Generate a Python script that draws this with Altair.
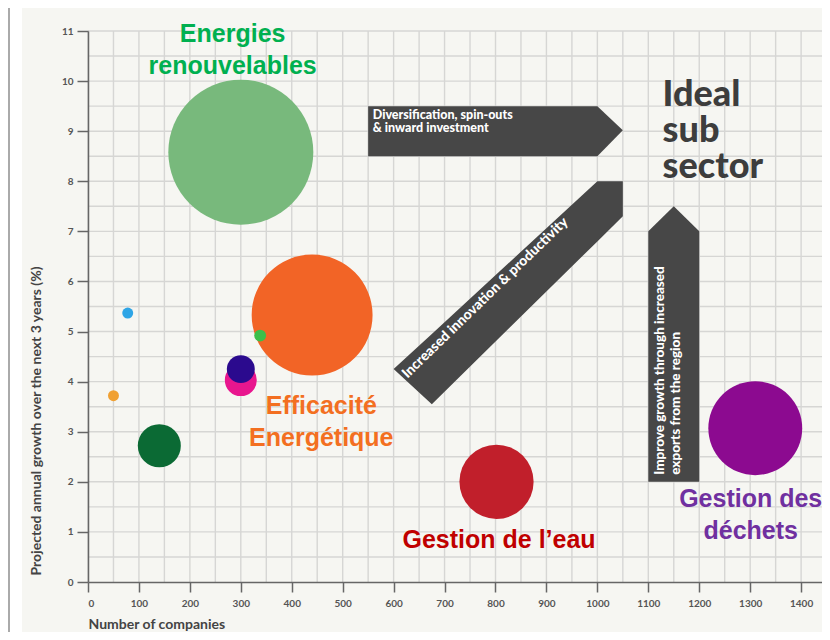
import altair as alt
import pandas as pd
import numpy as np

# ---------------- data ----------------
sector = ["Energies renouvelables", "Efficacité Energétique", "Sous-secteur A",
          "Sous-secteur B", "Sous-secteur C", "Sous-secteur D", "Sous-secteur E",
          "Sous-secteur F", "Gestion de l'eau", "Gestion des déchets"]
companies = [300, 440, 78, 50, 140, 300, 300, 338, 802, 1310]
growth = [8.58, 5.33, 5.37, 3.72, 2.72, 4.03, 4.25, 4.92, 2.0, 3.07]
bubble = [210, 146, 1.2, 1.2, 18.5, 10.2, 7.8, 1.4, 55, 88]
colors = ["#78b97c", "#f26426", "#2ea5e6", "#f0a032", "#0b6a34",
          "#e8168e", "#2b0a8e", "#3cbf4a", "#c11f2b", "#8c0a90"]

x_ticks = list(range(0, 1401, 100))
y_ticks = list(range(0, 12))

# sector labels (data coordinates)
lab_text = ["Energies\nrenouvelables", "Efficacité\nEnergétique", "Gestion de l’eau", "Gestion des\ndéchets"]
lab_x = [284, 458, 807, 1301]
lab_y = [10.79, 3.35, 0.67, 1.50]
lab_color = ["#00b050", "#f36f21", "#c00000", "#7030a0"]

# arrows (data coordinates)
arrow_h_x = [550, 1000, 1050]
arrow_h_top = [9.5, 9.5, 9.02]
arrow_h_bot = [8.5, 8.5, 9.02]

arrow_v_y = [2.0, 7.0, 7.5]
arrow_v_left = [1100, 1100, 1150]
arrow_v_right = [1200, 1200, 1150]

diag_top_x = [600, 1000, 1050]
diag_top_y = [4.25, 8.0, 8.0]
diag_bot_x = [600, 675, 1050]
diag_bot_y = [4.25, 3.55, 7.3]

W, H = 734, 551
xs = alt.Scale(domain=[0, 1441], nice=False, zero=False)
ys = alt.Scale(domain=[0, 11], nice=False, zero=False)

x_axis = alt.Axis(values=x_ticks, format="d", grid=False, domainColor="#666666", domainWidth=1.5,
                  tickColor="#666666", tickWidth=1.5, tickSize=10, zindex=1,
                  labelFont="Lato", labelFontWeight="bold", labelFontSize=10,
                  labelColor="#555555", labelPadding=6,
                  title="Number of companies", titleFont="Lato", titleFontSize=14,
                  titleFontWeight="bold", titleColor="#444444", titleX=0, titleY=46,
                  titleAlign="left", titleBaseline="alphabetic")
y_axis = alt.Axis(values=y_ticks, grid=False, domainColor="#666666", domainWidth=1.5,
                  tickColor="#666666", tickWidth=1.5, tickSize=11, zindex=1,
                  labelFont="Lato", labelFontWeight="bold", labelFontSize=10,
                  labelColor="#555555", labelPadding=4,
                  title="Projected annual growth over the next 3 years (%)",
                  titleFont="Lato", titleFontSize=14, titleFontWeight="bold",
                  titleColor="#444444", titleAngle=270, titleAlign="left",
                  titleBaseline="middle", titleX=-52, titleY=H - 7)

def X(f, **k):
    return alt.X(f, scale=xs, axis=x_axis, title="Number of companies", **k)

def Y(f, **k):
    return alt.Y(f, scale=ys, axis=y_axis, title="Projected annual growth over the next 3 years (%)", **k)

one = pd.DataFrame({"a": [0]})

bg = alt.Chart(one).mark_rect(color="#f6f6f2").encode(
    x=alt.value(-66), x2=alt.value(W), y=alt.value(-23), y2=alt.value(H + 50))
edge = alt.Chart(one).mark_rule(color="#aaaaaa", strokeWidth=2).encode(
    x=alt.value(-79), y=alt.value(-23), y2=alt.value(H + 50))

gx = pd.DataFrame({"x": np.arange(0, 1451, 50)})
gy = pd.DataFrame({"y": np.arange(0.5, 11.01, 0.5)})
grid_x = alt.Chart(gx).mark_rule(color="#d6d6d4", strokeWidth=1.4).encode(x=X("x:Q"))
grid_y = alt.Chart(gy).mark_rule(color="#d6d6d4", strokeWidth=1.4).encode(y=Y("y:Q"))

ARROW = "#474747"
ah = pd.DataFrame({"x": arrow_h_x, "y": arrow_h_top, "y2": arrow_h_bot})
arrow_h = alt.Chart(ah).mark_area(color=ARROW, opacity=1, interpolate="linear").encode(
    x=X("x:Q"), y=Y("y:Q"), y2="y2:Q")

av = pd.DataFrame({"y": arrow_v_y, "x": arrow_v_left, "x2": arrow_v_right})
arrow_v = alt.Chart(av).mark_area(color=ARROW, opacity=1, orient="horizontal").encode(
    y=Y("y:Q"), x=X("x:Q"), x2="x2:Q")

dx = sorted(set(diag_top_x + diag_bot_x))
ad = pd.DataFrame({"x": dx,
                   "y": np.interp(dx, diag_top_x, diag_top_y),
                   "y2": np.interp(dx, diag_bot_x, diag_bot_y)})
arrow_d = alt.Chart(ad).mark_area(color=ARROW, opacity=1).encode(
    x=X("x:Q"), y=Y("y:Q"), y2="y2:Q")

atext = pd.DataFrame({
    "t": ["Diversification, spin-outs\n& inward investment",
          "Increased innovation & productivity",
          "Improve growth through increased\nexports from the region"],
    "x": [559, 780, 1130], "y": [9.24, 5.67, 2.14]})
t1 = alt.Chart(atext.iloc[[0]]).mark_text(
    font="Lato", fontWeight=900, fontSize=12.5, color="white", align="left",
    baseline="alphabetic", lineHeight=13, lineBreak="\n").encode(x=X("x:Q"), y=Y("y:Q"), text="t:N")
t2 = alt.Chart(atext.iloc[[1]]).mark_text(
    font="Lato", fontWeight=900, fontSize=14, color="white", align="center",
    baseline="middle", angle=316).encode(x=X("x:Q"), y=Y("y:Q"), text="t:N")
t3 = alt.Chart(atext.iloc[[2]]).mark_text(
    font="Lato", fontWeight=900, fontSize=13.5, color="white", align="left",
    baseline="alphabetic", angle=270, lineHeight=16, lineBreak="\n").encode(x=X("x:Q"), y=Y("y:Q"), text="t:N")

bdf = pd.DataFrame({"sector": sector, "companies": companies, "growth": growth, "bubble": bubble})
bubbles = alt.Chart(bdf).mark_circle(opacity=1).encode(
    x=X("companies:Q"), y=Y("growth:Q"),
    size=alt.Size("bubble:Q", scale=alt.Scale(domain=[0, 210], range=[0, 21025]), legend=None),
    color=alt.Color("sector:N", scale=alt.Scale(domain=sector, range=colors), legend=None),
    order=alt.Order("bubble:Q", sort="descending"))

ldf = pd.DataFrame({"t": lab_text, "x": lab_x, "y": lab_y, "c": lab_color})
labels = alt.Chart(ldf).mark_text(
    font="Liberation Sans", fontWeight="bold", fontSize=25, align="center",
    baseline="alphabetic", lineHeight=32, lineBreak="\n").encode(
    x=X("x:Q"), y=Y("y:Q"), text="t:N", color=alt.Color("c:N", scale=None))

ideal = alt.Chart(pd.DataFrame({"t": ["Ideal\nsub\nsector"], "x": [1128], "y": [9.51]})).mark_text(
    font="Lato", fontWeight=900, fontSize=36, align="left", baseline="alphabetic",
    lineHeight=36, color="#3d3d3d", lineBreak="\n").encode(x=X("x:Q"), y=Y("y:Q"), text="t:N")

chart = alt.layer(bg, edge, grid_x, grid_y, arrow_h, arrow_d, arrow_v, t1, t2, t3,
                  bubbles, labels, ideal).properties(
    width=W, height=H,
    autosize=alt.AutoSizeParams(type="none"),
    padding={"left": 80, "top": 23, "right": 0, "bottom": 50},
    background="white"
).configure_view(stroke=None)

chart.save("out.html", embed_options={"renderer": "svg", "actions": False})
